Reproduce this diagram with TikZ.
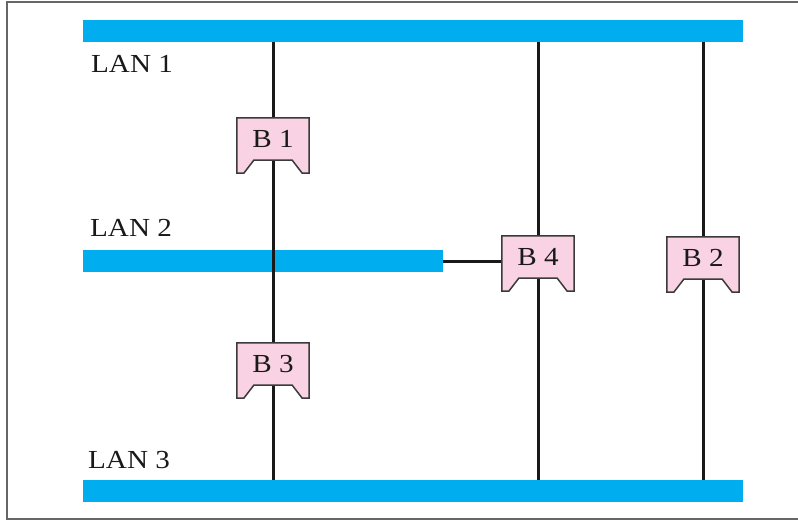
\documentclass[tikz,border=0pt]{standalone}
\usepackage{fontspec}
\setmainfont[FakeStretch=1.12]{Liberation Serif}
\begin{document}
\begin{tikzpicture}[x=1pt,y=-1pt,
  bar/.style={fill=lanblue,draw=none,inner sep=0pt,minimum height=22pt,anchor=north west},
  bridge/.style={draw=none,inner sep=0pt,minimum width=72pt,minimum height=55pt},
  bridgeline/.style={draw=bridgegray,line width=1.5pt,fill=bridgepink,line join=miter},
  wire/.style={line width=3pt,draw=black!90},
  lanlabel/.style={anchor=base west,inner sep=0pt,font=\fontsize{26}{30}\selectfont,text=black!90},
  blabel/.style={anchor=base,inner sep=0pt,font=\fontsize{26}{30}\selectfont,text=black!90}]
\definecolor{lanblue}{HTML}{00AEEF}
\definecolor{bridgepink}{HTML}{F9D3E3}
\definecolor{bridgegray}{HTML}{3A3A3A}
\useasboundingbox (0,0) rectangle (798,520);
% outer frame
\draw[draw=black!60,line width=1.6pt] (7,2) rectangle (810,519);

% the three LAN segments
\node[bar,minimum width=660pt] (lan1) at (83,20) {};
\node[bar,minimum width=360pt] (lan2) at (83,250) {};
\node[bar,minimum width=660pt] (lan3) at (83,480) {};
\node[lanlabel] (t1) at (91,72) {LAN 1};
\node[lanlabel] (t2) at (90,236) {LAN 2};
\node[lanlabel] (t3) at (88,468) {LAN 3};

% bridge placeholders
\node[bridge] (b1) at (273,145.5) {};
\node[bridge] (b3) at (273,370.5) {};
\node[bridge] (b4) at (538,263.5) {};
\node[bridge] (b2) at (703,264.5) {};

% wiring between segments
\draw[wire] (b1.center |- lan1.south) -- (b1.center |- lan3.north);
\draw[wire] (b4.center |- lan1.south) -- (b4.center |- lan3.north);
\draw[wire] (b2.center |- lan1.south) -- (b2.center |- lan3.north);
\draw[wire] (lan2.east) -- (lan2.east -| b4.west);

% bridge outlines with notched bottom
\newcommand\bridgeshape[2]{%
  \draw[bridgeline] (#1.north west) -- (#1.north east) -- (#1.south east)
    -- ++(-7,0) -- ++(-10,-13) -- ([xshift=17pt,yshift=13pt]#1.south west)
    -- ++(-10,13) -- (#1.south west) -- cycle;
  \node[blabel] at ([yshift=-30pt]#1.north) {#2};}
\bridgeshape{b1}{B 1}
\bridgeshape{b3}{B 3}
\bridgeshape{b4}{B 4}
\bridgeshape{b2}{B 2}
\end{tikzpicture}
\end{document}
